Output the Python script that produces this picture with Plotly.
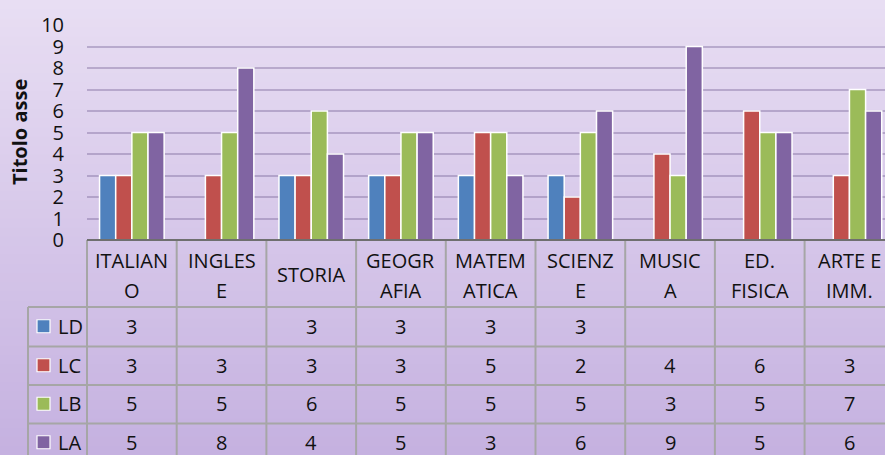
import plotly.graph_objects as go

# ---------------- data ----------------
subjects = ["ITALIANO", "INGLESE", "STORIA", "GEOGRAFIA", "MATEMATICA",
            "SCIENZE", "MUSICA", "ED. FISICA", "ARTE E IMM."]
header_labels = ["ITALIAN<br>O", "INGLES<br>E", "STORIA", "GEOGR<br>AFIA",
                 "MATEM<br>ATICA", "SCIENZ<br>E", "MUSIC<br>A", "ED.<br>FISICA",
                 "ARTE E<br>IMM."]
LD = [3, None, 3, 3, 3, 3, None, None, None]
LC = [3, 3, 3, 3, 5, 2, 4, 6, 3]
LB = [5, 5, 6, 5, 5, 5, 3, 5, 7]
LA = [5, 8, 4, 5, 3, 6, 9, 5, 6]
series_names = ["LD", "LC", "LB", "LA"]
series_values = [LD, LC, LB, LA]
series_colors = ["#4f81bd", "#c0504d", "#9bbb59", "#8064a2"]
y_ticks = list(range(0, 11))
y_title = "Titolo asse"

# ---------------- layout geometry ----------------
W, H = 885, 455
L, T, B, R = 87, 25, 215, 0
plot_w = W - L - R
plot_h = H - T - B
col_w = 89.7
x_range = [-0.5, -0.5 + plot_w / col_w]

FONT = "Open Sans"
FS = 20


def px(xpix):
    return (xpix - L) / plot_w


def py(ypix):
    return (H - B - ypix) / plot_h


def idx_to_px(v):
    return L + (v - x_range[0]) * col_w


fig = go.Figure()
for name, vals, col in zip(series_names, series_values, series_colors):
    fig.add_trace(go.Bar(
        x=subjects, y=vals, name=name, showlegend=False,
        marker=dict(color=col, line=dict(color="white", width=1.5)),
        hoverinfo="x+y+name",
    ))

shapes = []
annotations = []

# background gradient
top_c = (0xe8, 0xde, 0xf3)
bot_c = (0xc5, 0xb1, 0xe0)
N = 50
for k in range(N):
    f = k / (N - 1)
    c = tuple(int(round(top_c[j] + (bot_c[j] - top_c[j]) * f)) for j in range(3))
    y0 = H * k / N
    y1 = H * (k + 1) / N + 1
    shapes.append(dict(type="rect", xref="paper", yref="paper",
                       x0=px(0), x1=px(W), y0=py(y1), y1=py(y0),
                       fillcolor="rgb(%d,%d,%d)" % c, line=dict(width=0),
                       layer="below"))

# table geometry
header_top = 240
row_edges = [307, 346.5, 385, 423.5, 462]
legend_left = 28
line_col = "#a6a6a6"

# vertical column lines
for i in range(len(subjects) + 1):
    xp = idx_to_px(i - 0.5)
    if xp > W + 5:
        continue
    shapes.append(dict(type="line", xref="paper", yref="paper",
                       x0=px(xp), x1=px(xp), y0=py(header_top), y1=py(H + 5),
                       line=dict(color=line_col, width=2)))
# legend column left line
shapes.append(dict(type="line", xref="paper", yref="paper",
                   x0=px(legend_left), x1=px(legend_left),
                   y0=py(row_edges[0]), y1=py(H + 5),
                   line=dict(color=line_col, width=2)))
# horizontal row lines
for ye in row_edges[:-1]:
    shapes.append(dict(type="line", xref="paper", yref="paper",
                       x0=px(legend_left), x1=px(W + 5), y0=py(ye), y1=py(ye),
                       line=dict(color=line_col, width=2)))
# axis line (top of table)
shapes.append(dict(type="line", xref="paper", yref="paper",
                   x0=px(L), x1=px(W + 5), y0=py(header_top), y1=py(header_top),
                   line=dict(color="#6f6f6f", width=2)))

txt_font = dict(family=FONT, size=FS, color="#111111")

# header labels
for i, lab in enumerate(header_labels):
    parts = lab.split("<br>")
    if len(parts) == 2:
        ys = [260, 290]
    else:
        ys = [274]
    for part, yc in zip(parts, ys):
        annotations.append(dict(xref="paper", yref="paper",
                                x=px(idx_to_px(i)), y=py(yc), text=part,
                                showarrow=False, xanchor="center",
                                yanchor="middle", font=txt_font))

# data rows
for r, (name, vals, col) in enumerate(zip(series_names, series_values, series_colors)):
    yc = (row_edges[r] + row_edges[r + 1]) / 2 - 0.5
    # legend key
    shapes.append(dict(type="rect", xref="paper", yref="paper",
                       x0=px(37), x1=px(50), y0=py(yc + 6.5), y1=py(yc - 6.5),
                       fillcolor=col, line=dict(color="white", width=1.2)))
    annotations.append(dict(xref="paper", yref="paper", x=px(56), y=py(yc),
                            text=name, showarrow=False, xanchor="left",
                            yanchor="middle", font=txt_font))
    for i, v in enumerate(vals):
        if v is None:
            continue
        annotations.append(dict(xref="paper", yref="paper",
                                x=px(idx_to_px(i)), y=py(yc), text=str(v),
                                showarrow=False, xanchor="center",
                                yanchor="middle", font=txt_font))

# y axis title
annotations.append(dict(xref="paper", yref="paper", x=px(19.5), y=py(132.5),
                        text="<b>%s</b>" % y_title, textangle=-90,
                        showarrow=False, xanchor="center", yanchor="middle",
                        font=dict(family=FONT, size=FS, color="#111111")))

fig.update_layout(
    width=W, height=H,
    margin=dict(l=L, r=R, t=T, b=B, pad=0),
    paper_bgcolor="#d8cbea",
    plot_bgcolor="rgba(0,0,0,0)",
    barmode="group", bargap=0.28, bargroupgap=0.0,
    shapes=shapes, annotations=annotations,
    xaxis=dict(type="category", range=x_range, showticklabels=False,
               showgrid=False, zeroline=False, showline=False, ticks="",
               fixedrange=True),
    yaxis=dict(range=[0, 10], tickvals=y_ticks,
               ticktext=[str(t) for t in y_ticks],
               showgrid=True, gridcolor="rgba(125,105,155,0.42)", gridwidth=2,
               zeroline=False, showline=False, ticks="",
               ticklabelstandoff=22,
               tickfont=dict(family=FONT, size=FS, color="#111111"),
               fixedrange=True),
    showlegend=False,
)

fig.write_html(
    "out.html",
    config={"displayModeBar": False},
    post_script="document.body.style.margin='0';document.body.style.overflow='hidden';",
)
